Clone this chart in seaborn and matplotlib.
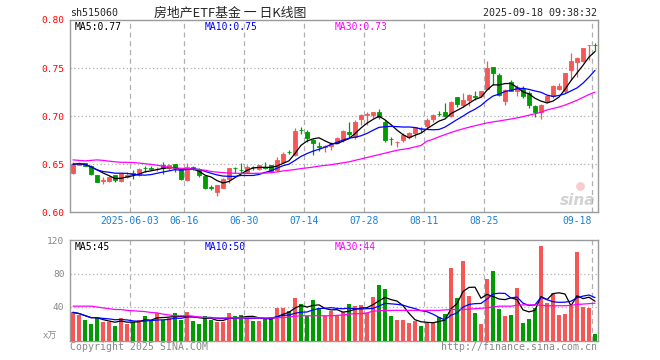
import numpy as np
import pandas as pd
import matplotlib
matplotlib.use("Agg")
import matplotlib.pyplot as plt
import seaborn as sns

# sh515060 daily K line, 88 trading days up to 2025-09-18
opens = [0.6406, 0.6497, 0.6510, 0.6486, 0.6388, 0.6322, 0.6326, 0.6388, 0.6326, 0.6370,
         0.6410, 0.6389, 0.6462, 0.6461, 0.6448, 0.6493, 0.6465, 0.6499, 0.6441, 0.6336,
         0.6470, 0.6448, 0.6378, 0.6258, 0.6215, 0.6256, 0.6343, 0.6462, 0.6441, 0.6423,
         0.6469, 0.6448, 0.6469, 0.6493, 0.6441, 0.6528, 0.6628, 0.6597, 0.6858, 0.6830,
         0.6753, 0.6685, 0.6680, 0.6691, 0.6718, 0.6760, 0.6833, 0.6788, 0.6972, 0.7007,
         0.7014, 0.7038, 0.6944, 0.6760, 0.6733, 0.6753, 0.6788, 0.6823, 0.6870, 0.6893,
         0.6972, 0.7021, 0.7042, 0.6997, 0.7195, 0.7118, 0.7170, 0.7206, 0.7205, 0.7285,
         0.7507, 0.7431, 0.7153, 0.7354, 0.7257, 0.7281, 0.7240, 0.7108, 0.7042, 0.7160,
         0.7205, 0.7285, 0.7257, 0.7483, 0.7559, 0.7576, 0.7736, 0.7740]
closes = [0.6500, 0.6510, 0.6486, 0.6395, 0.6319, 0.6336, 0.6371, 0.6336, 0.6406, 0.6390,
          0.6400, 0.6451, 0.6458, 0.6455, 0.6455, 0.6465, 0.6490, 0.6465, 0.6347, 0.6475,
          0.6465, 0.6388, 0.6256, 0.6255, 0.6284, 0.6343, 0.6465, 0.6458, 0.6440, 0.6475,
          0.6467, 0.6493, 0.6465, 0.6434, 0.6545, 0.6608, 0.6625, 0.6847, 0.6855, 0.6771,
          0.6718, 0.6684, 0.6687, 0.6712, 0.6771, 0.6847, 0.6816, 0.6944, 0.7007, 0.7021,
          0.7041, 0.6986, 0.6753, 0.6758, 0.6736, 0.6805, 0.6823, 0.6885, 0.6868, 0.6962,
          0.7007, 0.7020, 0.6997, 0.7146, 0.7129, 0.7170, 0.7222, 0.7203, 0.7257, 0.7500,
          0.7448, 0.7215, 0.7274, 0.7264, 0.7299, 0.7212, 0.7111, 0.7042, 0.7118, 0.7205,
          0.7309, 0.7316, 0.7448, 0.7569, 0.7604, 0.7708, 0.7743, 0.7736]
highs = [0.6520, 0.6520, 0.6515, 0.6490, 0.6390, 0.6370, 0.6378, 0.6390, 0.6410, 0.6420,
         0.6435, 0.6458, 0.6482, 0.6486, 0.6470, 0.6520, 0.6500, 0.6500, 0.6450, 0.6510,
         0.6482, 0.6458, 0.6388, 0.6284, 0.6284, 0.6354, 0.6465, 0.6475, 0.6517, 0.6493,
         0.6483, 0.6493, 0.6524, 0.6495, 0.6573, 0.6622, 0.6649, 0.6875, 0.6892, 0.6858,
         0.6760, 0.6726, 0.6701, 0.6736, 0.6778, 0.6858, 0.6944, 0.6962, 0.7021, 0.7048,
         0.7048, 0.7076, 0.6962, 0.6781, 0.6743, 0.6823, 0.6830, 0.6892, 0.6892, 0.6979,
         0.7021, 0.7056, 0.7135, 0.7160, 0.7195, 0.7240, 0.7229, 0.7257, 0.7264, 0.7576,
         0.7507, 0.7448, 0.7285, 0.7375, 0.7319, 0.7309, 0.7257, 0.7118, 0.7125, 0.7215,
         0.7326, 0.7344, 0.7448, 0.7656, 0.7614, 0.7708, 0.7743, 0.7760]
lows = [0.6395, 0.6490, 0.6480, 0.6390, 0.6310, 0.6290, 0.6316, 0.6320, 0.6320, 0.6360,
        0.6345, 0.6382, 0.6423, 0.6440, 0.6430, 0.6395, 0.6445, 0.6423, 0.6336, 0.6326,
        0.6440, 0.6370, 0.6246, 0.6232, 0.6173, 0.6250, 0.6301, 0.6413, 0.6413, 0.6416,
        0.6441, 0.6441, 0.6448, 0.6427, 0.6427, 0.6517, 0.6608, 0.6587, 0.6812, 0.6736,
        0.6597, 0.6642, 0.6632, 0.6649, 0.6712, 0.6736, 0.6788, 0.6760, 0.6903, 0.6910,
        0.6979, 0.6969, 0.6726, 0.6701, 0.6684, 0.6736, 0.6760, 0.6771, 0.6830, 0.6875,
        0.6944, 0.6997, 0.6986, 0.6986, 0.7090, 0.7090, 0.7101, 0.7170, 0.7195, 0.7274,
        0.7326, 0.7205, 0.7111, 0.7257, 0.7205, 0.7188, 0.7083, 0.6986, 0.6972, 0.7136,
        0.7188, 0.7274, 0.7240, 0.7378, 0.7406, 0.7562, 0.7587, 0.7674]
# volume in 万手
volumes = [33.6, 30.8, 24.8, 20.0, 26.8, 22.4, 22.4, 17.6, 27.2, 20.0,
           22.4, 24.8, 29.6, 24.8, 33.2, 24.8, 27.2, 33.2, 24.8, 34.4,
           23.6, 20.0, 29.6, 24.8, 22.4, 22.4, 33.2, 29.6, 30.8, 27.2,
           23.6, 23.6, 26.0, 28.4, 39.2, 39.2, 35.6, 51.2, 44.0, 29.6,
           48.8, 39.2, 29.6, 35.6, 30.8, 34.4, 44.0, 41.6, 42.8, 33.2,
           52.4, 66.8, 62.0, 29.6, 24.8, 24.8, 21.2, 23.6, 17.6, 21.2,
           22.4, 28.4, 32.0, 86.0, 51.2, 94.4, 53.6, 33.2, 20.0, 74.0,
           82.4, 38.0, 29.6, 30.8, 63.2, 21.2, 26.0, 39.2, 112.4, 45.2,
           57.2, 30.8, 32.0, 41.6, 105.2, 40.4, 39.2, 8.0]
# 30-day averages as drawn (need history before the window)
price_ma30 = [0.6545, 0.6540, 0.6535, 0.6540, 0.6545, 0.6540, 0.6532, 0.6525, 0.6520, 0.6520,
              0.6518, 0.6512, 0.6505, 0.6498, 0.6490, 0.6478, 0.6468, 0.6460, 0.6458, 0.6455,
              0.6450, 0.6443, 0.6438, 0.6425, 0.6418, 0.6413, 0.6408, 0.6406, 0.6405, 0.6405,
              0.6405, 0.6406, 0.6408, 0.6412, 0.6420, 0.6430, 0.6437, 0.6445, 0.6455, 0.6462,
              0.6470, 0.6480, 0.6488, 0.6495, 0.6505, 0.6515, 0.6525, 0.6540, 0.6555, 0.6570,
              0.6585, 0.6600, 0.6615, 0.6630, 0.6645, 0.6655, 0.6665, 0.6680, 0.6695, 0.6740,
              0.6760, 0.6785, 0.6808, 0.6830, 0.6850, 0.6868, 0.6885, 0.6900, 0.6915, 0.6930,
              0.6940, 0.6950, 0.6960, 0.6970, 0.6982, 0.6995, 0.7010, 0.7025, 0.7040, 0.7065,
              0.7080, 0.7095, 0.7115, 0.7140, 0.7165, 0.7195, 0.7225, 0.7250]
vol_ma30 = [41, 41, 41, 41, 40, 39, 38, 37, 37, 36,
            35.5, 35, 34.5, 33.5, 33, 31.5, 30.5, 29.5, 29.5, 29.5,
            29, 28, 27.5, 27, 27, 27, 27, 27, 27, 27,
            27, 27, 27, 27, 27, 27.5, 28, 29, 29.5, 29.5,
            29.5, 29.5, 29.5, 29.5, 30, 30.5, 31.5, 32, 32, 33,
            35, 35.5, 36, 36, 36, 36, 36, 36, 36, 36,
            36, 36, 36.5, 37, 37, 37, 37.5, 38, 38.5, 39,
            40, 41, 41, 41, 42, 42.5, 42.5, 42.5, 42, 41.5,
            41.5, 41.5, 41.5, 42, 43, 43.5, 44, 44.5]

tick_idx = [10, 19, 29, 39, 49, 59, 69, 87]
tick_labels = ["2025-06-03", "06-16", "06-30", "07-14", "07-28", "08-11", "08-25", "09-18"]
price_ma_text = ["MA5:0.77", "MA10:0.75", "MA30:0.73"]
vol_ma_text = ["MA5:45", "MA10:50", "MA30:44"]

df = pd.DataFrame({"open": opens, "close": closes, "high": highs, "low": lows,
                   "vol": volumes, "ma30": price_ma30, "vma30": vol_ma30})
df["idx"] = np.arange(len(df))
df["ma5"] = df["close"].rolling(5, min_periods=1).mean()
df["ma10"] = df["close"].rolling(10, min_periods=1).mean()
df["vma5"] = df["vol"].rolling(5, min_periods=1).mean()
df["vma10"] = df["vol"].rolling(10, min_periods=1).mean()

sns.set_style("white")
plt.rcParams["font.family"] = ["DejaVu Sans Mono", "Noto Sans CJK SC"]

RED = "#f65656"
GREEN = "#009b00"
GRID = "#b0b0b0"
FRAME = "#9a9a9a"
colors = np.where(df["close"] >= df["open"], RED, GREEN)

fig = plt.figure(figsize=(6.6, 3.6), dpi=100)
W, H = 660, 360
def box(x0, y0, x1, y1):
    return [x0 / W, 1 - y1 / H, (x1 - x0) / W, (y1 - y0) / H]

ax = fig.add_axes(box(70, 20, 598, 212.3))
axv = fig.add_axes(box(70, 240, 598, 340.5))

# candles
ax.vlines(df["idx"], df["low"], df["high"], color=colors, lw=0.9, zorder=3)
body_lo = df[["open", "close"]].min(axis=1)
body_h = (df["close"] - df["open"]).abs()
ax.bar(df["idx"], body_h, bottom=body_lo, width=0.78, color=colors,
       edgecolor=colors, linewidth=0.6, zorder=3)
sns.lineplot(x=df["idx"], y=df["ma5"], ax=ax, color="black", lw=0.9, zorder=4)
sns.lineplot(x=df["idx"], y=df["ma10"], ax=ax, color="#0000ff", lw=0.9, zorder=4)
sns.lineplot(x=df["idx"], y=df["ma30"], ax=ax, color="#ff00ff", lw=0.9, zorder=4)

# volume
axv.bar(df["idx"], df["vol"], width=0.82, color=colors, linewidth=0, zorder=3)
sns.lineplot(x=df["idx"], y=df["vma5"], ax=axv, color="black", lw=0.9, zorder=4)
sns.lineplot(x=df["idx"], y=df["vma10"], ax=axv, color="#0000ff", lw=0.9, zorder=4)
sns.lineplot(x=df["idx"], y=df["vma30"], ax=axv, color="#ff00ff", lw=0.9, zorder=4)

grid_x = [t - 0.5 for t in tick_idx]
for a, ylim, hl in [(ax, (0.60, 0.80), [0.65, 0.70, 0.75]), (axv, (0, 120), [40, 80])]:
    a.set_xlim(-0.5, len(df) - 0.5)
    a.set_ylim(*ylim)
    for gx in grid_x:
        a.axvline(gx, color=GRID, ls=(0, (4, 3)), lw=0.9, zorder=1)
    for hy in hl:
        a.axhline(hy, color=GRID, ls=(0, (1, 2)), lw=0.9, zorder=1)
    for s in a.spines.values():
        s.set_color(FRAME)
        s.set_linewidth(1)
    a.set_xlabel("")
    a.set_ylabel("")
    a.tick_params(length=0)

ax.set_yticks([0.60, 0.65, 0.70, 0.75, 0.80])
ax.set_yticklabels(["%.2f" % v for v in [0.60, 0.65, 0.70, 0.75, 0.80]],
                   color="#ff0000", fontsize=6.8)
ax.set_xticks(grid_x)
ax.set_xticklabels(tick_labels, color="#1a7fd4", fontsize=7)
ax.tick_params(axis="x", pad=2.5)
ax.tick_params(axis="y", pad=4)
ax.get_xticklabels()[-1].set_horizontalalignment("right")

axv.set_xticks(grid_x)
axv.set_xticklabels([])
axv.set_yticks([40, 80, 120])
axv.set_yticklabels(["40", "80", "120"], color="#888888", fontsize=6.8)
axv.tick_params(axis="y", pad=4)
axv.text(-0.025, 0.04, "x万", transform=axv.transAxes, ha="right", va="center",
         color="#888888", fontsize=6.5)

# moving-average captions
for a, texts, yy in [(ax, price_ma_text, 26.5), (axv, vol_ma_text, 246.5)]:
    for t, x0, c in zip(texts, [75, 205, 335], ["black", "#0000ff", "#ff00ff"]):
        fig.text(x0 / W, 1 - yy / H, t, color=c, fontsize=7, va="center", ha="left")

# header / footer
fig.text(70 / W, 1 - 13 / H, "sh515060", fontsize=7.2, va="center", ha="left")
fig.text(230 / W, 1 - 13 / H, "房地产ETF基金 一 日K线图", fontsize=9.3,
         va="center", ha="center", family=["Noto Sans CJK SC", "DejaVu Sans"])
fig.text(597 / W, 1 - 13 / H, "2025-09-18 09:38:32", fontsize=7.2, va="center", ha="right")
fig.text(70 / W, 1 - 347 / H, "Copyright 2025 SINA.COM", fontsize=7.1,
         color="#888888", va="center", ha="left")
fig.text(597 / W, 1 - 347 / H, "http://finance.sina.com.cn", fontsize=7.1,
         color="#888888", va="center", ha="right")

# watermark
ax.text(0.995, 0.06, "sina", transform=ax.transAxes, ha="right", va="center",
        fontsize=11, color="#d2d2d2", style="italic", weight="bold",
        family="DejaVu Sans", zorder=0)
ax.scatter([0.965], [0.135], transform=ax.transAxes, s=40, color="#f7cccc",
           linewidths=0, zorder=0)

fig.savefig("out.png", dpi=100)
